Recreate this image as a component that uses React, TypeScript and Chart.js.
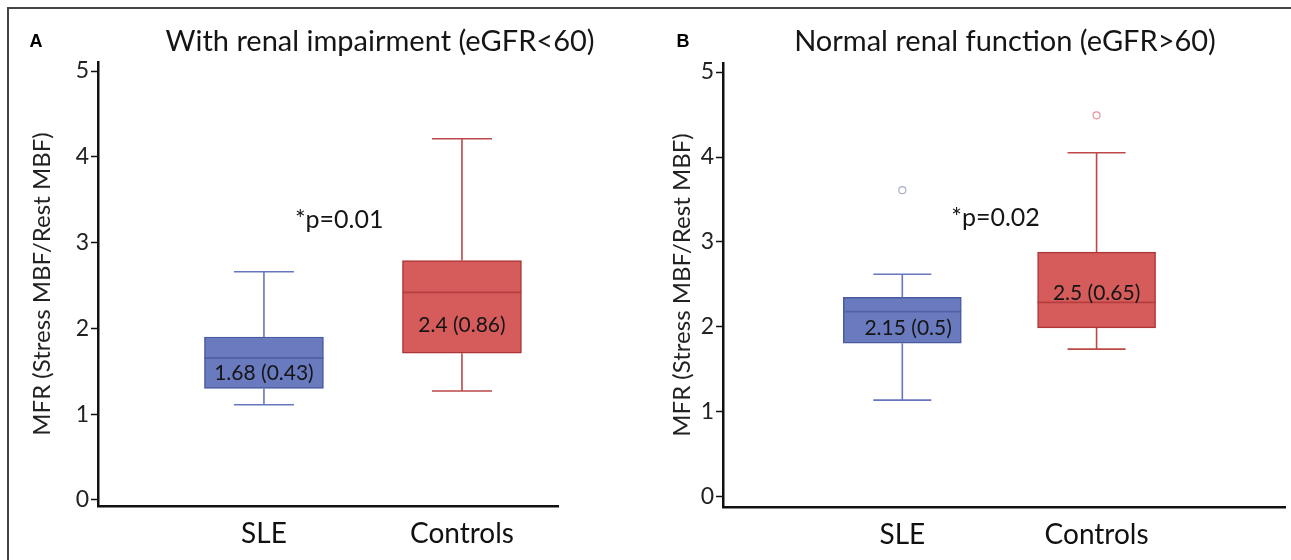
import React, { useEffect, useRef } from 'react';
import { Chart, registerables } from 'chart.js';

Chart.register(...registerables);

// ---------- data ----------
const categories = ['SLE', 'Controls'];
const yTicks = [0, 1, 2, 3, 4, 5];
const yAxisTitle = 'MFR (Stress MBF/Rest MBF)';

// Panel A: with renal impairment
const titleA = 'With renal impairment (eGFR<60)';
const aLow = [1.11, 1.27];
const aQ1 = [1.3, 1.71];
const aMedian = [1.655, 2.42];
const aQ3 = [1.9, 2.79];
const aHigh = [2.66, 4.21];
const aMean = [1.68, 2.4];
const aSd = [0.43, 0.86];
const aOutliers: number[][] = [[], []];
const aP = '*p=0.01';

// Panel B: normal renal function
const titleB = 'Normal renal function (eGFR>60)';
const bLow = [1.14, 1.74];
const bQ1 = [1.81, 1.99];
const bMedian = [2.18, 2.29];
const bQ3 = [2.35, 2.88];
const bHigh = [2.62, 4.05];
const bMean = [2.15, 2.5];
const bSd = [0.5, 0.65];
const bOutliers: number[][] = [[3.61], [4.49]];
const bP = '*p=0.02';

// ---------- styles ----------
const fills = ['rgb(106,122,190)', 'rgb(214,92,92)'];
const borders = ['rgb(74,90,160)', 'rgb(172,54,54)'];
const whiskerColors = ['rgb(104,118,192)', 'rgb(188,72,72)'];
const medianColors = ['rgb(82,98,168)', 'rgb(182,62,62)'];
const outlierColors = ['rgb(170,176,200)', 'rgb(228,150,150)'];
const FONT = 'Lato';

interface PanelCfg {
  letter: string;
  title: string;
  low: number[];
  q1: number[];
  median: number[];
  q3: number[];
  high: number[];
  mean: number[];
  sd: number[];
  outliers: number[][];
  p: string;
  canvasLeft: number;
  canvasWidth: number;
  letterX: number;
  titleX: number;
  yAxisWidth: number;
  yTitlePad: number;
  top: number;
  xAxisHeight: number;
  padRight: number;
  xMin: number;
  xMax: number;
  yMin: number;
  yMax: number;
  boxWidth: number;
  capHalf: number;
  pPos: [number, number];
  labelPos: [number, number][];
}

const panelA: PanelCfg = {
  letter: 'A', title: titleA, low: aLow, q1: aQ1, median: aMedian, q3: aQ3, high: aHigh,
  mean: aMean, sd: aSd, outliers: aOutliers, p: aP,
  canvasLeft: 0, canvasWidth: 645, letterX: 36, titleX: 380,
  yAxisWidth: 98, yTitlePad: 28, top: 62, xAxisHeight: 54, padRight: 87,
  xMin: -0.838, xMax: 1.485, yMin: -0.07, yMax: 5.105,
  boxWidth: 119, capHalf: 30,
  pPos: [0.38, 3.26],
  labelPos: [[0, 1.48], [1, 2.04]],
};

const panelB: PanelCfg = {
  letter: 'B', title: titleB, low: bLow, q1: bQ1, median: bMedian, q3: bQ3, high: bHigh,
  mean: bMean, sd: bSd, outliers: bOutliers, p: bP,
  canvasLeft: 645, canvasWidth: 646, letterX: 38, titleX: 360,
  yAxisWidth: 78, yTitlePad: 23, top: 63, xAxisHeight: 53, padRight: 0,
  xMin: -0.923, xMax: 1.974, yMin: -0.118, yMax: 5.106,
  boxWidth: 118, capHalf: 29,
  pPos: [0.48, 3.28],
  labelPos: [[0.03, 1.99], [1, 2.4]],
};

function Panel({ cfg }: { cfg: PanelCfg }) {
  const ref = useRef<HTMLCanvasElement | null>(null);

  useEffect(() => {
    const canvas = ref.current;
    if (!canvas) return;

    const boxPlugin = {
      id: 'boxExtras',
      afterDatasetsDraw(chart: any) {
        const ctx = chart.ctx as CanvasRenderingContext2D;
        const xs = chart.scales.x;
        const ys = chart.scales.y;
        ctx.save();
        categories.forEach((_, i) => {
          const x = xs.getPixelForValue(i);
          const yLow = ys.getPixelForValue(cfg.low[i]);
          const yQ1 = ys.getPixelForValue(cfg.q1[i]);
          const yQ3 = ys.getPixelForValue(cfg.q3[i]);
          const yHigh = ys.getPixelForValue(cfg.high[i]);
          const yMed = ys.getPixelForValue(cfg.median[i]);
          ctx.strokeStyle = whiskerColors[i];
          ctx.lineWidth = 1.6;
          ctx.beginPath();
          ctx.moveTo(x, yQ3); ctx.lineTo(x, yHigh);
          ctx.moveTo(x - cfg.capHalf, yHigh); ctx.lineTo(x + cfg.capHalf, yHigh);
          ctx.moveTo(x, yQ1); ctx.lineTo(x, yLow);
          ctx.moveTo(x - cfg.capHalf, yLow); ctx.lineTo(x + cfg.capHalf, yLow);
          ctx.stroke();
          ctx.strokeStyle = medianColors[i];
          ctx.lineWidth = 1.8;
          ctx.beginPath();
          ctx.moveTo(x - cfg.boxWidth / 2, yMed); ctx.lineTo(x + cfg.boxWidth / 2, yMed);
          ctx.stroke();
          const [lx, ly] = cfg.labelPos[i];
          ctx.fillStyle = '#151515';
          ctx.font = `21px ${FONT}`;
          ctx.textAlign = 'center';
          ctx.textBaseline = 'middle';
          ctx.fillText(`${cfg.mean[i]} (${cfg.sd[i]})`, xs.getPixelForValue(lx), ys.getPixelForValue(ly));
        });
        ctx.fillStyle = '#151515';
        ctx.font = `25px ${FONT}`;
        ctx.textAlign = 'center';
        ctx.textBaseline = 'middle';
        ctx.fillText(cfg.p, xs.getPixelForValue(cfg.pPos[0]), ys.getPixelForValue(cfg.pPos[1]));
        ctx.font = `29px ${FONT}`;
        ctx.fillText(cfg.title, cfg.titleX, 42);
        ctx.font = 'bold 18px "Liberation Sans"';
        ctx.fillStyle = '#000';
        ctx.fillText(cfg.letter, cfg.letterX, 42);
        ctx.restore();
      },
    };

    const outlierData: { x: number; y: number }[] = [];
    const outlierColorList: string[] = [];
    cfg.outliers.forEach((arr, i) => arr.forEach((v) => {
      outlierData.push({ x: i, y: v });
      outlierColorList.push(outlierColors[i]);
    }));

    const chart = new Chart(canvas, {
      type: 'bar',
      data: {
        datasets: [
          {
            type: 'bar',
            data: categories.map((_, i) => ({ x: i, y: [cfg.q1[i], cfg.q3[i]] })) as any,
            backgroundColor: fills,
            borderColor: borders,
            borderWidth: 1.5,
            borderSkipped: false,
            barThickness: cfg.boxWidth,
            grouped: false,
          } as any,
          {
            type: 'scatter',
            data: categories.map((_, i) => ({ x: i, y: cfg.mean[i] })),
            pointRadius: 3.5,
            pointBorderWidth: 1,
            pointBackgroundColor: 'rgba(0,0,0,0)',
            pointBorderColor: medianColors,
          } as any,
          {
            type: 'scatter',
            data: outlierData,
            pointRadius: 3.5,
            pointBorderWidth: 1.2,
            pointBackgroundColor: '#fff',
            pointBorderColor: outlierColorList,
          } as any,
        ],
      },
      options: {
        responsive: false,
        animation: false,
        events: [],
        layout: { padding: { left: 0, top: cfg.top, right: cfg.padRight, bottom: 0 } },
        plugins: { legend: { display: false }, tooltip: { enabled: false }, title: { display: false } },
        scales: {
          x: {
            type: 'linear',
            offset: false,
            min: cfg.xMin,
            max: cfg.xMax,
            afterBuildTicks: (s: any) => { s.ticks = categories.map((_, i) => ({ value: i })); },
            afterFit: (s: any) => { s.height = cfg.xAxisHeight; },
            ticks: {
              callback: (v: any) => categories[v as number] ?? '',
              font: { family: FONT, size: 28 },
              color: '#111',
              padding: 11,
              maxRotation: 0,
              autoSkip: false,
            },
            grid: { display: false, drawTicks: false, offset: false },
            border: { display: true, color: '#111', width: 2.5 },
          },
          y: {
            type: 'linear',
            min: cfg.yMin,
            max: cfg.yMax,
            afterBuildTicks: (s: any) => { s.ticks = yTicks.map((v) => ({ value: v })); },
            afterFit: (s: any) => { s.width = cfg.yAxisWidth; },
            ticks: { font: { family: FONT, size: 23 }, color: '#222', padding: 2 },
            grid: { display: true, drawOnChartArea: false, drawTicks: true, tickLength: 7, tickColor: '#111', tickWidth: 1.5 },
            border: { display: true, color: '#111', width: 2.5 },
            title: {
              display: true,
              text: yAxisTitle,
              font: { family: FONT, size: 24 },
              color: '#222',
              padding: { top: cfg.yTitlePad, bottom: 0 },
            },
          },
        },
      } as any,
      plugins: [boxPlugin],
    });
    return () => chart.destroy();
  }, [cfg]);

  return (
    <canvas
      ref={ref}
      width={cfg.canvasWidth}
      height={560}
      style={{ position: 'absolute', left: cfg.canvasLeft, top: 0, width: cfg.canvasWidth, height: 560 }}
    />
  );
}

export default function App() {
  return (
    <div style={{ position: 'fixed', left: 0, top: 0, width: 1291, height: 560, background: '#fff', overflow: 'hidden' }}>
      <Panel cfg={panelA} />
      <Panel cfg={panelB} />
      <div style={{ position: 'absolute', left: 7, top: 7, width: 1284, height: 553, borderTop: '2px solid #444', borderLeft: '2px solid #444', boxSizing: 'border-box' }} />
    </div>
  );
}
